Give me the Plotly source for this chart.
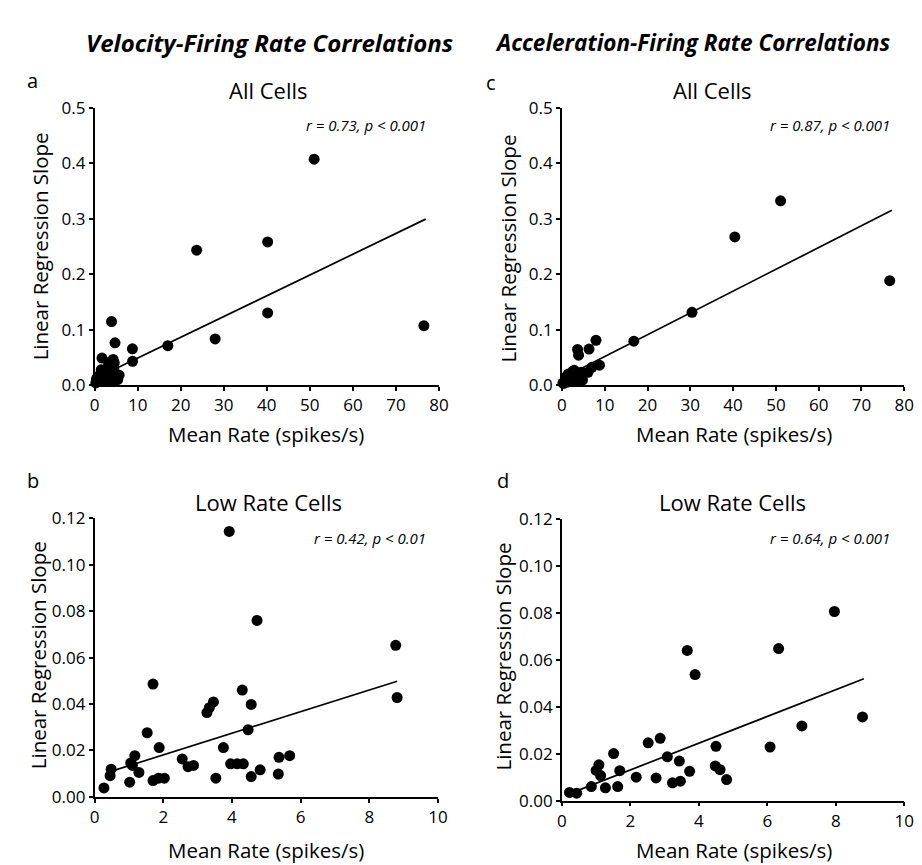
import plotly.graph_objects as go

# ---------------- data ----------------
# Velocity, low-rate cells (panel b; also part of panel a)
vel_low_x = [3.92, 4.73, 8.77, 8.81, 1.70, 4.30, 4.56, 1.53, 3.27, 3.34, 3.46, 4.47, 1.88,
             3.75, 1.17, 1.05, 1.10, 0.48, 0.45, 0.27, 1.02, 1.29, 1.70, 1.86, 2.03, 2.55,
             2.72, 2.88, 3.53, 3.96, 4.15, 4.33, 4.56, 4.82, 5.35, 5.37, 5.68]
vel_low_y = [0.1144, 0.076, 0.0653, 0.0428, 0.0486, 0.046, 0.0398, 0.0276, 0.0363, 0.0384,
             0.0409, 0.0289, 0.0212, 0.0212, 0.0177, 0.0146, 0.0135, 0.0119, 0.0091, 0.0038,
             0.0063, 0.0105, 0.0070, 0.0080, 0.0080, 0.0163, 0.0130, 0.0135, 0.0080, 0.0142,
             0.0142, 0.0142, 0.0087, 0.0116, 0.0098, 0.0170, 0.0177]
# Velocity, high-rate cells (only in panel a)
vel_high_x = [17.0, 23.7, 28.0, 40.2, 40.2, 51.0, 76.5]
vel_high_y = [0.071, 0.243, 0.083, 0.258, 0.130, 0.407, 0.107]

# Acceleration, low-rate cells (panel d; also part of panel c)
acc_low_x = [7.96, 6.33, 3.66, 3.89, 8.78, 7.01, 6.08, 4.50, 2.52, 2.87, 1.51, 3.08, 3.43,
             3.73, 3.23, 3.46, 2.75, 2.17, 1.69, 1.63, 1.27, 0.86, 1.08, 1.00, 1.13, 4.48,
             4.62, 4.81, 0.22, 0.43]
acc_low_y = [0.0807, 0.0649, 0.0641, 0.0538, 0.0357, 0.0319, 0.0229, 0.0232, 0.0247, 0.0266,
             0.0201, 0.0187, 0.0169, 0.0125, 0.0076, 0.0083, 0.0097, 0.0100, 0.0128, 0.0060,
             0.0055, 0.0060, 0.0153, 0.0129, 0.0107, 0.0148, 0.0132, 0.0090, 0.0035, 0.0032]
acc_high_x = [16.8, 30.4, 40.4, 51.1, 76.6]
acc_high_y = [0.079, 0.131, 0.267, 0.332, 0.188]

# regression lines (endpoints)
fit_a_x, fit_a_y = [0.5, 76.9], [0.013, 0.299]
fit_b_x, fit_b_y = [0.38, 8.81], [0.0105, 0.0498]
fit_c_x, fit_c_y = [0.5, 77.1], [0.014, 0.315]
fit_d_x, fit_d_y = [0.19, 8.82], [0.0028, 0.052]

stats = ["r = 0.73, p < 0.001", "r = 0.42, p < 0.01", "r = 0.87, p < 0.001", "r = 0.64, p < 0.001"]
all_ticks_x = [0, 10, 20, 30, 40, 50, 60, 70, 80]
low_ticks_x = [0, 2, 4, 6, 8, 10]
all_ticks_y = [0.0, 0.1, 0.2, 0.3, 0.4, 0.5]
low_ticks_y = [0.00, 0.02, 0.04, 0.06, 0.08, 0.10, 0.12]

# ---------------- figure ----------------
W, H = 922, 865
FONT = "Open Sans"


def px(x):
    return x / W


def py(y):
    return 1 - y / H


fig = go.Figure()

panels = [
    ("x", "y", vel_low_x + vel_high_x, vel_low_y + vel_high_y, fit_a_x, fit_a_y),
    ("x2", "y2", vel_low_x, vel_low_y, fit_b_x, fit_b_y),
    ("x3", "y3", acc_low_x + acc_high_x, acc_low_y + acc_high_y, fit_c_x, fit_c_y),
    ("x4", "y4", acc_low_x, acc_low_y, fit_d_x, fit_d_y),
]

for xa, ya, xs, ys, fx, fy in panels:
    fig.add_trace(go.Scatter(x=fx, y=fy, mode="lines", xaxis=xa, yaxis=ya,
                             line=dict(color="black", width=1.7), showlegend=False,
                             cliponaxis=False))
    fig.add_trace(go.Scatter(x=xs, y=ys, mode="markers", xaxis=xa, yaxis=ya,
                             marker=dict(color="black", size=11, line=dict(width=0)),
                             showlegend=False, cliponaxis=False))

axis_common = dict(showline=True, linecolor="black", linewidth=1.6, ticks="outside",
                   ticklen=4, tickwidth=1.6, tickcolor="black", showgrid=False,
                   zeroline=False, tickfont=dict(family=FONT, size=17, color="black"),
                   fixedrange=True)

# domains in pixels: (x0, x1, ytop, ybottom)
dom = {
    "a": (83, 433, 90, 375),
    "b": (83, 432, 512, 798),
    "c": (558, 906, 90, 375),
    "d": (558, 906, 513, 802),
}


def xdom(k):
    return [px(dom[k][0]), px(dom[k][1])]


def ydom(k):
    return [py(dom[k][3]), py(dom[k][2])]


fig.update_layout(
    width=W, height=H,
    margin=dict(l=0, r=0, t=0, b=0),
    paper_bgcolor="white", plot_bgcolor="white",
    font=dict(family=FONT, color="black"),
    xaxis=dict(axis_common, domain=xdom("a"), anchor="y", range=[0, 80], tickvals=all_ticks_x),
    yaxis=dict(axis_common, domain=ydom("a"), anchor="x", range=[0, 0.5], tickvals=all_ticks_y,
               tickformat=".1f"),
    xaxis2=dict(axis_common, domain=xdom("b"), anchor="y2", range=[0, 10], tickvals=low_ticks_x),
    yaxis2=dict(axis_common, domain=ydom("b"), anchor="x2", range=[0, 0.12], tickvals=low_ticks_y,
                tickformat=".2f"),
    xaxis3=dict(axis_common, domain=xdom("c"), anchor="y3", range=[0, 80], tickvals=all_ticks_x),
    yaxis3=dict(axis_common, domain=ydom("c"), anchor="x3", range=[0, 0.5], tickvals=all_ticks_y,
                tickformat=".1f"),
    xaxis4=dict(axis_common, domain=xdom("d"), anchor="y4", range=[0, 10], tickvals=low_ticks_x),
    yaxis4=dict(axis_common, domain=ydom("d"), anchor="x4", range=[0, 0.12], tickvals=low_ticks_y,
                tickformat=".2f"),
)

ann = []


def add(text, x, y, size, xanchor="center", textangle=0, bold=False, italic=False):
    t = text
    if italic:
        t = "<i>" + t + "</i>"
    if bold:
        t = "<b>" + t + "</b>"
    ann.append(dict(text=t, x=px(x), y=py(y), xref="paper", yref="paper",
                    xanchor=xanchor, yanchor="middle", showarrow=False,
                    textangle=textangle, font=dict(family=FONT, size=size, color="black")))


add("Velocity-Firing Rate Correlations", 261, 23, 24, bold=True, italic=True)
add("Acceleration-Firing Rate Correlations", 488, 23, 22.5, xanchor="left", bold=True, italic=True)

add("a", 20, 62, 20)
add("c", 486, 64, 20)
add("b", 20, 473, 20)
add("d", 498, 473, 20)

add("All Cells", 260, 72, 22)
add("All Cells", 711, 72, 22)
add("Low Rate Cells", 260, 495, 22)
add("Low Rate Cells", 731, 495, 22)

add(stats[0], 422, 108, 15, xanchor="right", italic=True)
add(stats[2], 894, 108, 15, xanchor="right", italic=True)
add(stats[1], 422, 532, 15, xanchor="right", italic=True)
add(stats[3], 894, 532, 15, xanchor="right", italic=True)

add("Mean Rate (spikes/s)", 257, 425, 20.5)
add("Mean Rate (spikes/s)", 733, 425, 20.5)
add("Mean Rate (spikes/s)", 257, 853, 20.5)
add("Mean Rate (spikes/s)", 733, 853, 20.5)

add("Linear Regression Slope", 27, 233, 20.5, textangle=-90)
add("Linear Regression Slope", 503, 235, 20.5, textangle=-90)
add("Linear Regression Slope", 25, 653, 20.5, textangle=-90)
add("Linear Regression Slope", 498, 654, 20.5, textangle=-90)

fig.update_layout(annotations=ann)

fig.write_html("out.html")
